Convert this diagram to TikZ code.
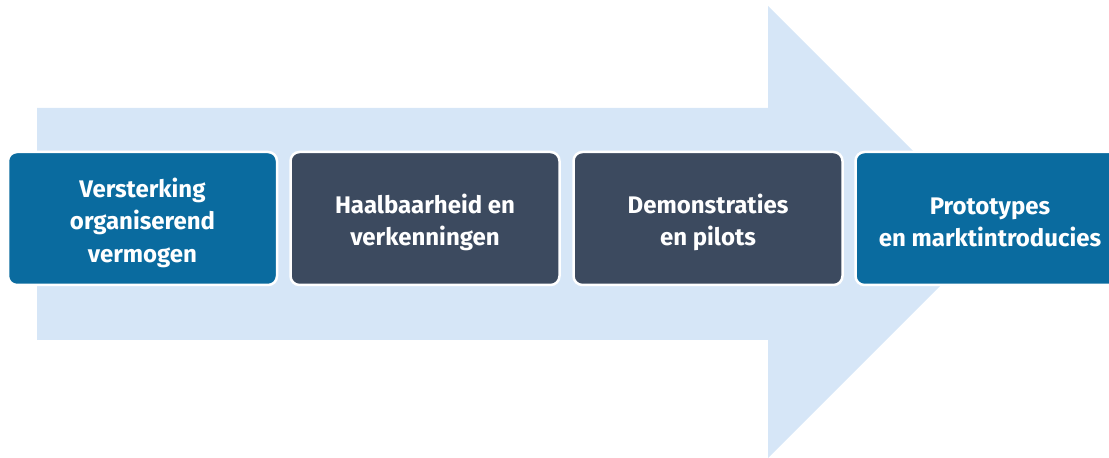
\documentclass[tikz,border=0pt]{standalone}
\usepackage{fontspec}
\setmainfont{Fira Sans}
\definecolor{arrowblue}{HTML}{D6E6F7}
\definecolor{stepblue}{HTML}{0A6B9F}
\definecolor{stepdark}{HTML}{3C4A5F}
\tikzset{
  stagebox/.style={rectangle, rounded corners=9pt, draw=white, line width=2.5pt,
    minimum width=269pt, minimum height=133pt, inner sep=0pt},
  blue box/.style={stagebox, fill=stepblue},
  dark box/.style={stagebox, fill=stepdark},
  stagetext/.style={text=white, inner sep=0pt, align=center,
    font=\fontsize{24}{32.5}\selectfont\bfseries}
}
\begin{document}
\begin{tikzpicture}[x=1pt,y=1pt]
\useasboundingbox (0,0) rectangle (1109,458);
\clip (0,0) rectangle (1109,458);
\fill[arrowblue] (37,350) -- (768,350) -- (768,452) -- (994,226) -- (768,0) -- (768,118) -- (37,118) -- cycle;
\node[blue box] (s1) at (142.5,239.5) {};
\node[dark box] (s2) at (425,239.5) {};
\node[dark box] (s3) at (708,239.5) {};
\node[blue box] (s4) at (990,239.5) {};
\node[stagetext] (t1) at ([yshift=-4pt]s1.center) {Versterking\\organiserend\\vermogen};
\node[stagetext] (t2) at ([yshift=-4pt]s2.center) {Haalbaarheid en\\verkenningen};
\node[stagetext] (t3) at ([yshift=-4pt]s3.center) {Demonstraties\\en pilots};
\node[stagetext] (t4) at ([yshift=-4pt]s4.center) {Prototypes\\en marktintroducies};
\end{tikzpicture}
\end{document}
